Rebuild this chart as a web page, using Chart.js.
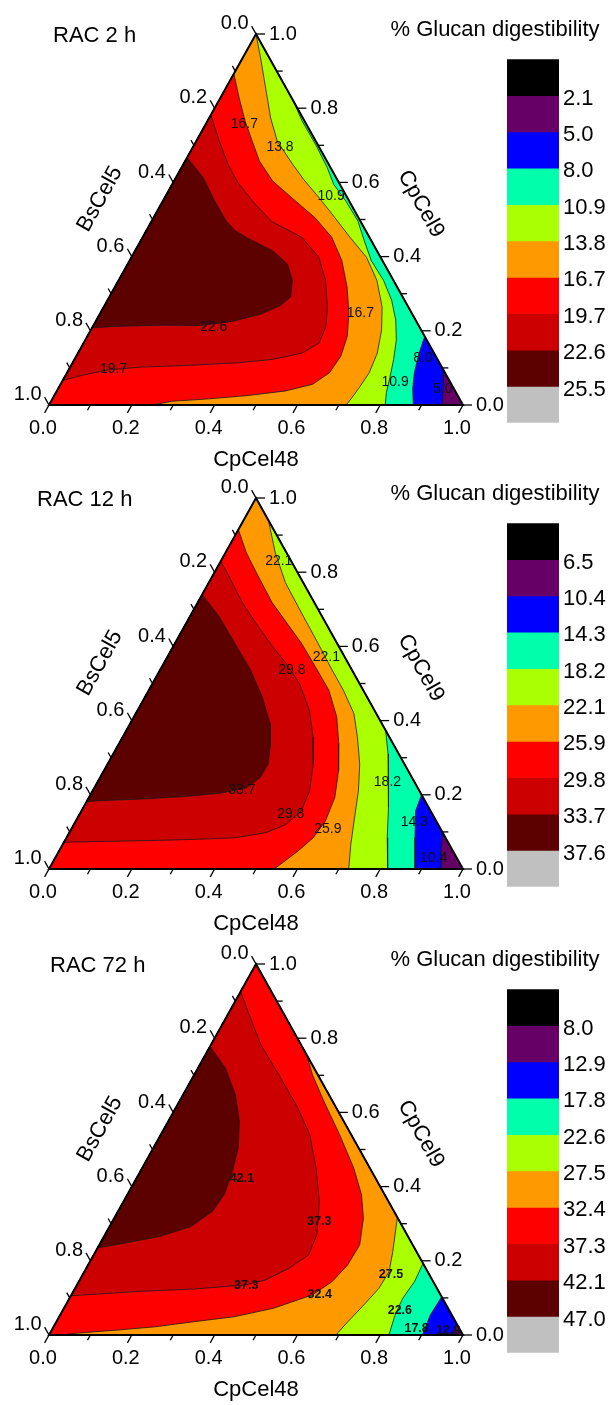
<!DOCTYPE html>
<html>
<head>
<meta charset="utf-8">
<script src="https://cdn.jsdelivr.net/npm/chart.js@4.4.1/dist/chart.umd.min.js"></script>
<style>
  html, body { margin: 0; padding: 0; background: #ffffff; }
  #wrap { position: relative; width: 613px; height: 1405px; overflow: hidden; background: #fff; }
  .tern { position: absolute; left: 0; width: 613px; height: 473px; }
  .cbar { position: absolute; left: 497px; width: 116px; height: 398px; }
</style>
</head>
<body>
<div id="wrap">
  <div class="tern" style="top:0px"><canvas id="t1"></canvas></div>
  <div class="cbar" style="top:42px"><canvas id="c1"></canvas></div>
  <div class="tern" style="top:464px"><canvas id="t2"></canvas></div>
  <div class="cbar" style="top:506px"><canvas id="c2"></canvas></div>
  <div class="tern" style="top:930px"><canvas id="t3"></canvas></div>
  <div class="cbar" style="top:972px"><canvas id="c3"></canvas></div>
</div>
<script>
// ---------------- DATA ----------------
// colour bands of the colour scale, top to bottom
const bandColors = ['#000000', '#660066', '#0000ff', '#00ffaa', '#aaff00', '#ff9900', '#ff0000', '#cc0000', '#5c0000', '#c0c0c0'];

// colour-scale boundary labels
const levels1 = ['2.1', '5.0', '8.0', '10.9', '13.8', '16.7', '19.7', '22.6', '25.5'];
const levels2 = ['6.5', '10.4', '14.3', '18.2', '22.1', '25.9', '29.8', '33.7', '37.6'];
const levels3 = ['8.0', '12.9', '17.8', '22.6', '27.5', '32.4', '37.3', '42.1', '47.0'];

const panelTitles = ['RAC 2 h', 'RAC 12 h', 'RAC 72 h'];
const axisTicks = [0, 0.2, 0.4, 0.6, 0.8, 1.0];

// ternary corners as [CpCel48, CpCel9]
const BL = [0, 0];   // pure BsCel5
const AP = [0, 1];   // pure CpCel9

// contour lines, points as [CpCel48, CpCel9] (BsCel5 = 1 - both)
// ---- RAC 2 h ----
const p1_c5_0 = [[0.904, 0.096], [0.927, 0.052], [0.95, 0]];
const p1_c8_0 = [[0.815, 0.185], [0.824, 0.14], [0.839, 0.087], [0.857, 0.043], [0.88, 0]];
const p1_c10_9 = [[0.178, 0.822], [0.23, 0.764], [0.293, 0.702], [0.352, 0.64], [0.39, 0.595], [0.443, 0.549], [0.498, 0.496], [0.54, 0.443], [0.584, 0.389], [0.64, 0.336], [0.686, 0.283], [0.723, 0.229], [0.751, 0.176], [0.771, 0.123], [0.788, 0.069], [0.798, 0.034], [0.812, 0]];
const p1_c13_8 = [[0, 1], [0.045, 0.933], [0.097, 0.853], [0.149, 0.773], [0.196, 0.711], [0.264, 0.649], [0.311, 0.608], [0.374, 0.558], [0.438, 0.505], [0.501, 0.452], [0.568, 0.398], [0.624, 0.336], [0.672, 0.265], [0.702, 0.203], [0.723, 0.14], [0.73, 0.087], [0.726, 0.047], [0.722, 0.02], [0.718, 0]];
const p1_c16_7 = [[0, 0.893], [0.046, 0.827], [0.092, 0.764], [0.179, 0.658], [0.238, 0.604], [0.308, 0.558], [0.39, 0.505], [0.457, 0.452], [0.513, 0.389], [0.561, 0.318], [0.601, 0.247], [0.628, 0.185], [0.639, 0.132], [0.634, 0.087], [0.609, 0.056], [0.553, 0.038], [0.463, 0.025], [0.371, 0.016], [0.292, 0.01], [0.25, 0]];
const p1_c19_7 = [[0, 0.782], [0.056, 0.711], [0.108, 0.649], [0.156, 0.6], [0.22, 0.547], [0.29, 0.495], [0.385, 0.452], [0.453, 0.398], [0.5, 0.336], [0.54, 0.265], [0.563, 0.212], [0.569, 0.167], [0.542, 0.14], [0.479, 0.123], [0.403, 0.114], [0.287, 0.107], [0.167, 0.102], [0.092, 0.094], [0.04, 0.08], [0, 0.066]];
const p1_c22_6 = [[0, 0.667], [0.066, 0.613], [0.125, 0.55], [0.18, 0.496], [0.215, 0.47], [0.25, 0.452], [0.332, 0.416], [0.386, 0.38], [0.42, 0.336], [0.438, 0.292], [0.425, 0.268], [0.39, 0.245], [0.332, 0.226], [0.258, 0.214], [0.16, 0.215], [0.06, 0.212], [0, 0.208]];
const p1_labels = [['16.7', 0.094, 0.756], ['13.8', 0.21, 0.696], ['10.9', 0.40, 0.563], ['22.6', 0.293, 0.21], ['19.7', 0.108, 0.096], ['16.7', 0.628, 0.248], ['10.9', 0.805, 0.062], ['8.0', 0.84, 0.127], ['5.0', 0.93, 0.042]];

// ---- RAC 12 h ----
const p2_c10_4 = [[0.902, 0.098], [0.923, 0.048], [0.948, 0]];
const p2_c14_3 = [[0.8, 0.2], [0.807, 0.157], [0.842, 0.084], [0.884, 0]];
const p2_c18_2 = [[0.626, 0.374], [0.664, 0.31], [0.702, 0.238], [0.736, 0.166], [0.775, 0.084], [0.818, 0]];
const p2_c22_1 = [[0.06, 0.94], [0.12, 0.853], [0.185, 0.772], [0.265, 0.69], [0.345, 0.609], [0.415, 0.537], [0.47, 0.482], [0.527, 0.419], [0.567, 0.356], [0.609, 0.283], [0.642, 0.211], [0.669, 0.138], [0.696, 0.066], [0.724, 0]];
const p2_c25_9 = [[0, 0.915], [0.05, 0.853], [0.11, 0.79], [0.18, 0.718], [0.243, 0.663], [0.305, 0.609], [0.37, 0.546], [0.435, 0.482], [0.49, 0.41], [0.531, 0.338], [0.567, 0.265], [0.594, 0.193], [0.603, 0.129], [0.596, 0.084], [0.577, 0.048], [0.555, 0.016], [0.544, 0]];
const p2_c29_8 = [[0, 0.83], [0.048, 0.781], [0.108, 0.718], [0.178, 0.654], [0.24, 0.6], [0.295, 0.555], [0.355, 0.5], [0.415, 0.428], [0.46, 0.356], [0.497, 0.283], [0.524, 0.211], [0.531, 0.157], [0.512, 0.12], [0.475, 0.098], [0.407, 0.084], [0.314, 0.08], [0.22, 0.077], [0.126, 0.075], [0.03, 0.073], [0, 0.072]];
const p2_c33_7 = [[0, 0.74], [0.07, 0.681], [0.144, 0.609], [0.218, 0.537], [0.283, 0.464], [0.338, 0.392], [0.37, 0.328], [0.388, 0.283], [0.387, 0.247], [0.368, 0.218], [0.309, 0.204], [0.227, 0.195], [0.117, 0.188], [0.024, 0.184], [0, 0.181]];
const p2_labels = [['22.1', 0.14, 0.83], ['22.1', 0.385, 0.57], ['29.8', 0.318, 0.537], ['33.7', 0.36, 0.212], ['29.8', 0.51, 0.148], ['25.9', 0.62, 0.107], ['18.2', 0.70, 0.235], ['14.3', 0.82, 0.125], ['10.4', 0.915, 0.028]];

// ---- RAC 72 h ----
const p3_c12_9 = [[0.968, 0.032], [0.972, 0.012], [0.978, 0]];
const p3_c17_8 = [[0.897, 0.103], [0.894, 0.054], [0.902, 0]];
const p3_c22_6 = [[0.807, 0.193], [0.811, 0.144], [0.805, 0.099], [0.809, 0.054], [0.821, 0]];
const p3_c27_5 = [[0.683, 0.317], [0.718, 0.225], [0.736, 0.171], [0.734, 0.126], [0.72, 0.081], [0.704, 0.036], [0.693, 0]];
const p3_c32_4 = [[0.245, 0.755], [0.286, 0.701], [0.349, 0.63], [0.432, 0.54], [0.511, 0.45], [0.566, 0.378], [0.602, 0.315], [0.629, 0.243], [0.627, 0.189], [0.612, 0.144], [0.582, 0.108], [0.506, 0.072], [0.422, 0.049], [0.333, 0.036], [0.245, 0.022], [0.155, 0.013], [0.065, 0.005], [0.03, 0]];
const p3_c37_3 = [[0, 0.926], [0.052, 0.863], [0.121, 0.782], [0.214, 0.692], [0.295, 0.612], [0.36, 0.54], [0.42, 0.45], [0.473, 0.36], [0.512, 0.27], [0.519, 0.216], [0.49, 0.18], [0.448, 0.148], [0.407, 0.135], [0.289, 0.124], [0.15, 0.117], [0.059, 0.11], [0, 0.106]];
const p3_c42_1 = [[0, 0.778], [0.067, 0.719], [0.127, 0.647], [0.172, 0.576], [0.205, 0.504], [0.225, 0.432], [0.234, 0.378], [0.228, 0.333], [0.196, 0.292], [0.133, 0.265], [0.057, 0.247], [0, 0.235]];
const p3_labels = [['42.1', 0.255, 0.422], ['37.3', 0.5, 0.306], ['37.3', 0.41, 0.133], ['32.4', 0.6, 0.108], ['27.5', 0.745, 0.162], ['22.6', 0.815, 0.065], ['17.8', 0.879, 0.018], ['12.9', 0.958, 0.013]];

// corners that close each superlevel region (same order as the contours)
const closeCorners1 = [[BL, AP], [BL, AP], [BL, AP], [BL], [BL], [], []];
const closeCorners2 = [[BL, AP], [BL, AP], [BL, AP], [BL, AP], [BL], [], []];
const closeCorners3 = [[BL, AP], [BL, AP], [BL, AP], [BL, AP], [BL, AP], [], []];

// ---------------- LAYOUT / STYLE ----------------
const FONT = "'Liberation Sans', Arial, Helvetica, sans-serif";
const titleX = [53, 37, 50];
const labelFonts = ['14px ' + FONT, '14px ' + FONT, 'bold 12.5px ' + FONT];

const panels = [
  { tern: 't1', bar: 'c1', title: panelTitles[0], levels: levels1, contours: [p1_c5_0, p1_c8_0, p1_c10_9, p1_c13_8, p1_c16_7, p1_c19_7, p1_c22_6], closes: closeCorners1, labels: p1_labels },
  { tern: 't2', bar: 'c2', title: panelTitles[1], levels: levels2, contours: [p2_c10_4, p2_c14_3, p2_c18_2, p2_c22_1, p2_c25_9, p2_c29_8, p2_c33_7], closes: closeCorners2, labels: p2_labels },
  { tern: 't3', bar: 'c3', title: panelTitles[2], levels: levels3, contours: [p3_c12_9, p3_c17_8, p3_c22_6, p3_c27_5, p3_c32_4, p3_c37_3, p3_c42_1], closes: closeCorners3, labels: p3_labels }
];

// ternary composition -> plot coordinates
function toXY(p) { return { x: p[0] + p[1] / 2, y: p[1] }; }

function decorPlugin(panel, idx) {
  return {
    id: 'ternDecor' + idx,
    afterDatasetsDraw(chart) {
      const ctx = chart.ctx, xs = chart.scales.x, ys = chart.scales.y;
      const P = (a, b) => [xs.getPixelForValue(a + b / 2), ys.getPixelForValue(b)];
      const pBL = P(0, 0), pBR = P(1, 0), pAP = P(0, 1);
      const norm = (dx, dy) => { const l = Math.hypot(dx, dy); return [dx / l, dy / l]; };
      const dDown = norm(pBL[0] - pAP[0], pBL[1] - pAP[1]);
      const dUpL = norm(pAP[0] - pBR[0], pAP[1] - pBR[1]);
      ctx.save();
      // triangle frame
      ctx.beginPath();
      ctx.moveTo(pBL[0], pBL[1]); ctx.lineTo(pBR[0], pBR[1]); ctx.lineTo(pAP[0], pAP[1]); ctx.closePath();
      ctx.lineWidth = 2; ctx.strokeStyle = '#000'; ctx.lineJoin = 'miter'; ctx.stroke();
      // ticks
      ctx.lineWidth = 1.3;
      const seg = (p, q) => { ctx.beginPath(); ctx.moveTo(p[0], p[1]); ctx.lineTo(q[0], q[1]); ctx.stroke(); };
      for (let i = 0; i <= 10; i++) {
        const v = i / 10, len = (i % 2 === 0) ? 9 : 6;
        let p = P(v, 0); seg(p, [p[0] + dDown[0] * len, p[1] + dDown[1] * len]);
        p = P(1 - v, v); seg(p, [p[0] + len, p[1]]);
        p = P(0, 1 - v); seg(p, [p[0] + dUpL[0] * len, p[1] + dUpL[1] * len]);
      }
      // side tick labels
      ctx.fillStyle = '#000';
      ctx.font = '20px ' + FONT;
      axisTicks.forEach(v => {
        let p = P(1 - v, v);
        ctx.textAlign = 'left'; ctx.textBaseline = 'middle';
        ctx.fillText(v.toFixed(1), p[0] + 13, p[1]);
        p = P(0, 1 - v);
        const e = [p[0] + dUpL[0] * 9, p[1] + dUpL[1] * 9];
        ctx.textAlign = 'right'; ctx.textBaseline = 'alphabetic';
        ctx.fillText(v.toFixed(1), e[0] - 3, e[1] + 3);
      });
      // side axis titles
      ctx.font = '22px ' + FONT;
      ctx.textAlign = 'center'; ctx.textBaseline = 'middle';
      const angL = Math.atan2(pAP[1] - pBL[1], pAP[0] - pBL[0]);
      const angR = Math.atan2(pBR[1] - pAP[1], pBR[0] - pAP[0]);
      ctx.save(); ctx.translate(100, 199); ctx.rotate(angL); ctx.fillText('BsCel5', 0, 0); ctx.restore();
      ctx.save(); ctx.translate(421, 204); ctx.rotate(angR); ctx.fillText('CpCel9', 0, 0); ctx.restore();
      // titles
      ctx.textAlign = 'left';
      ctx.fillText(panel.title, titleX[idx], 36);
      ctx.textAlign = 'center';
      ctx.fillText('% Glucan digestibility', 495, 30);
      // contour labels
      ctx.font = labelFonts[idx];
      ctx.fillStyle = '#111';
      panel.labels.forEach(l => {
        const p = P(l[1], l[2]);
        ctx.fillText(l[0], p[0], p[1]);
      });
      ctx.restore();
    }
  };
}

panels.forEach((panel, idx) => {
  const datasets = [];
  datasets.push({
    data: [BL, [1, 0], AP, BL].map(toXY),
    backgroundColor: bandColors[1], borderWidth: 0, fill: 'shape',
    showLine: true, pointRadius: 0, pointHitRadius: 0, order: 100, clip: 4
  });
  panel.contours.forEach((c, i) => {
    const pts = c.concat(panel.closes[i]);
    pts.push(c[0]);
    datasets.push({
      data: pts.map(toXY),
      backgroundColor: bandColors[i + 2], borderColor: '#1a1a1a', borderWidth: 0.8,
      fill: 'shape', showLine: true, pointRadius: 0, pointHitRadius: 0,
      tension: 0, order: 99 - i, clip: 4
    });
  });

  new Chart(document.getElementById(panel.tern), {
    type: 'scatter',
    data: { datasets },
    options: {
      animation: false, responsive: true, maintainAspectRatio: false, events: [],
      layout: { padding: { left: 49, right: 150, top: 34, bottom: 0 } },
      plugins: { legend: { display: false }, tooltip: { enabled: false } },
      scales: {
        x: {
          type: 'linear', min: 0, max: 1, position: 'bottom',
          grid: { display: false, drawTicks: false }, border: { display: false },
          ticks: { stepSize: 0.2, autoSkip: false, maxRotation: 0, padding: 11, labelOffset: -6,
                   callback: v => Number(v).toFixed(1), font: { family: FONT, size: 20 }, color: '#000' },
          title: { display: true, text: 'CpCel48', font: { family: FONT, size: 22 }, color: '#000', padding: { top: 0, bottom: 0 } },
          afterFit: s => { s.height = 68; }
        },
        y: { type: 'linear', min: 0, max: 1, display: false }
      }
    },
    plugins: [decorPlugin(panel, idx)]
  });

  const levels = panel.levels;
  new Chart(document.getElementById(panel.bar), {
    type: 'bar',
    data: {
      labels: [''],
      datasets: bandColors.map(c => ({ data: [1], backgroundColor: c, borderWidth: 0, barPercentage: 1, categoryPercentage: 1, stack: 's' }))
    },
    options: {
      animation: false, responsive: true, maintainAspectRatio: false, events: [],
      layout: { padding: { left: 10, right: 0, top: 15, bottom: 15 } },
      plugins: { legend: { display: false }, tooltip: { enabled: false } },
      scales: {
        x: { display: false, stacked: true },
        y: {
          stacked: true, reverse: true, min: 0, max: 10, position: 'right',
          grid: { display: false, drawTicks: false }, border: { display: false },
          afterBuildTicks: s => { s.ticks = levels.map((l, i) => ({ value: i + 1 })); },
          ticks: { callback: v => levels[Math.round(v) - 1], font: { family: FONT, size: 22 }, color: '#000', padding: 4, labelOffset: 3 },
          afterFit: s => { s.width = 54; }
        }
      }
    }
  });
});
</script>
</body>
</html>
